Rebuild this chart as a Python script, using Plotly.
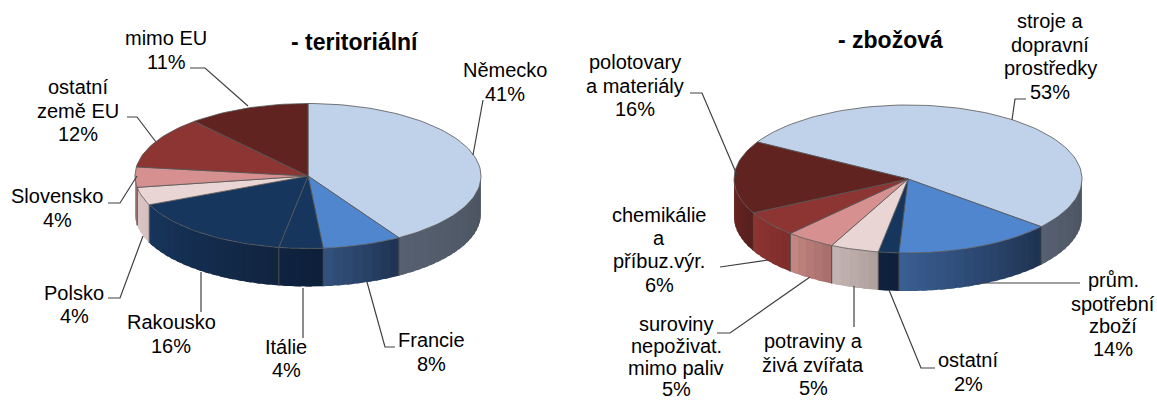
import math
import plotly.graph_objects as go

# ---- data ----
# Slice shares as read from the drawn angles; the printed percentages are in the label lists below.
terr_names = ["Německo", "Francie", "Itálie", "Rakousko", "Polsko", "Slovensko", "ostatní země EU", "mimo EU"]
terr_values = [41.2, 7.4, 4.1, 15.8, 4.0, 4.5, 11.6, 11.4]
zboz_names = ["stroje a dopravní prostředky", "prům. spotřební zboží", "ostatní", "potraviny a živá zvířata",
              "suroviny nepoživat. mimo paliv", "chemikálie a příbuz.výr.", "polotovary a materiály"]
zboz_values = [52.8, 14.7, 1.9, 4.5, 4.6, 5.6, 15.9]

terr_top = ["#C0D2EA", "#4F86CE", "#17365D", "#17365D", "#EAD5D5", "#D69090", "#8C3533", "#602320"]
terr_wall = [("#566070", "#4B535F"), ("#33527F", "#1F3352"), ("#0F2340", "#0D1F39"), ("#17355C", "#11243F"),
             ("#DCC5C5", "#D5BEBE"), ("#C58585", "#B57575"), ("#7F2D2B", "#702826"), ("#561F1D", "#561F1D")]
zboz_top = ["#C0D2EA", "#4F86CE", "#17365D", "#EAD5D5", "#D69090", "#8C3533", "#602320"]
zboz_wall = [("#566070", "#4B535F"), ("#3A5F93", "#1E3250"), ("#0F2340", "#0D1F39"), ("#C5B5B3", "#AE9F9D"),
             ("#C78983", "#A46C6A"), ("#8C3533", "#7F2D2B"), ("#6E2725", "#561F1D")]

terr_labels = [(166, [(38, "mimo EU"), (62, "11%")]), (505, [(70, "Německo"), (94, "41%")]),
               (78, [(87, "ostatní"), (111, "země EU"), (134, "12%")]), (57, [(196, "Slovensko"), (220, "4%")]),
               (74, [(293, "Polsko"), (316, "4%")]), (171, [(322, "Rakousko"), (346, "16%")]),
               (286, [(347, "Itálie"), (370, "4%")]), (431, [(340, "Francie"), (364, "8%")])]
zboz_labels = [(1050, [(21, "stroje a"), (45, "dopravní"), (68, "prostředky"), (92, "53%")]),
               (635, [(62, "polotovary"), (86, "a materiály"), (109, "16%")]),
               (659, [(215, "chemikálie"), (238, "a"), (261, "příbuz.výr."), (285, "6%")]),
               (676, [(324, "suroviny"), (346, "nepoživat."), (368, "mimo paliv"), (389, "5%")]),
               (813, [(341, "potraviny a"), (365, "živá zvířata"), (388, "5%")]),
               (968, [(360, "ostatní"), (384, "2%")]),
               (1113, [(280, "prům."), (304, "spotřební"), (326, "zboží"), (349, "14%")])]
leaders = [[(190, 68), (205, 68), (248, 106)], [(127, 117), (137, 117), (156, 142)],
           [(108, 203), (120, 203), (137, 176)], [(108, 298), (120, 298), (143, 236)],
           [(201, 272), (201, 312)], [(303, 288), (303, 338)], [(367, 282), (385, 347), (395, 347)],
           [(483, 100), (473, 155)],
           [(1012, 120), (1015, 99), (1026, 99)], [(690, 93), (702, 93), (737, 175)],
           [(720, 267), (768, 260)], [(717, 333), (730, 333), (810, 277)], [(854, 286), (854, 327)],
           [(889, 290), (921, 368), (935, 368)], [(980, 283), (1080, 283)]]


def lerp(c1, c2, t):
    a = [int(c1[i:i + 2], 16) for i in (1, 3, 5)]
    b = [int(c2[i:i + 2], 16) for i in (1, 3, 5)]
    return "#" + "".join(f"{round(p + (q - p) * t):02X}" for p, q in zip(a, b))


fig = go.Figure()


def add_poly(xs, ys, fill, line, width):
    fig.add_trace(go.Scatter(x=xs, y=ys, mode="lines", fill="toself", fillcolor=fill,
                             line=dict(color=line, width=width), hoverinfo="skip", showlegend=False))


def pie3d(values, tops, walls, cx, cy, rx, ry, depth, start):
    total = sum(values)
    px = lambda a: cx + rx * math.sin(math.radians(a))
    py = lambda a: cy - ry * math.cos(math.radians(a))
    spans = []
    a = start
    for v in values:
        b = a + v / total * 360
        spans.append((a, b))
        a = b
    # side wall: overlapping strips so that no seams show through
    for (a, b), (cl, cr) in zip(spans, walls):
        for k in (-360, 0, 360):
            lo, hi = max(a + k, 90), min(b + k, 270)
            if hi <= lo:
                continue
            n = max(1, int((hi - lo) / 3))
            for i in range(n):
                s = lo + (hi - lo) * i / n
                e = min(hi, lo + (hi - lo) * (i + 1.6) / n)
                m = lo + (hi - lo) * (i + 0.5) / n
                col = lerp(cr, cl, (m - lo) / (hi - lo))
                angs = [s + (e - s) * j / 4 for j in range(5)]
                xs = [px(t) for t in angs] + [px(t) for t in reversed(angs)]
                ys = [py(t) for t in angs] + [py(t) + depth for t in reversed(angs)]
                add_poly(xs + xs[:1], ys + ys[:1], col, col, 0)
            for edge in (lo, hi):
                if 90 < edge < 270:
                    fig.add_trace(go.Scatter(x=[px(edge), px(edge)], y=[py(edge), py(edge) + depth], mode="lines",
                                             line=dict(color="#4A4A4A", width=0.8), hoverinfo="skip", showlegend=False))
    # top faces
    for (a, b), col in zip(spans, tops):
        n = max(4, int((b - a) / 2))
        angs = [a + (b - a) * i / n for i in range(n + 1)]
        xs = [cx] + [px(t) for t in angs] + [cx]
        ys = [cy] + [py(t) for t in angs] + [cy]
        add_poly(xs, ys, col, "#555555", 0.8)


pie3d(terr_values, terr_top, terr_wall, 308, 176, 173, 72.5, 38, 0)
pie3d(zboz_values, zboz_top, zboz_wall, 908, 179, 174, 74, 38, 300)

for pts in leaders:
    fig.add_trace(go.Scatter(x=[p[0] for p in pts], y=[p[1] for p in pts], mode="lines",
                             line=dict(color="#404040", width=1.2), hoverinfo="skip", showlegend=False))

FONT = "Liberation Sans"
ann = []
for cx_, lines in terr_labels + zboz_labels:
    for y_, txt in lines:
        ann.append(dict(x=cx_, y=y_, text=txt, showarrow=False, xanchor="center", yanchor="middle",
                        font=dict(family=FONT, size=20, color="#000000")))
ann.append(dict(x=355, y=42, text="<b>- teritoriální</b>", showarrow=False, font=dict(family=FONT, size=23, color="#000000")))
ann.append(dict(x=890, y=40, text="<b>- zbožová</b>", showarrow=False, font=dict(family=FONT, size=23, color="#000000")))

fig.update_layout(width=1157, height=400, margin=dict(l=0, r=0, t=0, b=0), showlegend=False,
                  paper_bgcolor="white", plot_bgcolor="white", annotations=ann,
                  xaxis=dict(range=[0, 1157], visible=False, fixedrange=True),
                  yaxis=dict(range=[400, 0], visible=False, fixedrange=True))
fig.write_html("out.html", config={"displayModeBar": False, "responsive": False},
               post_script="document.body.style.margin='0';document.body.style.overflow='hidden';")
